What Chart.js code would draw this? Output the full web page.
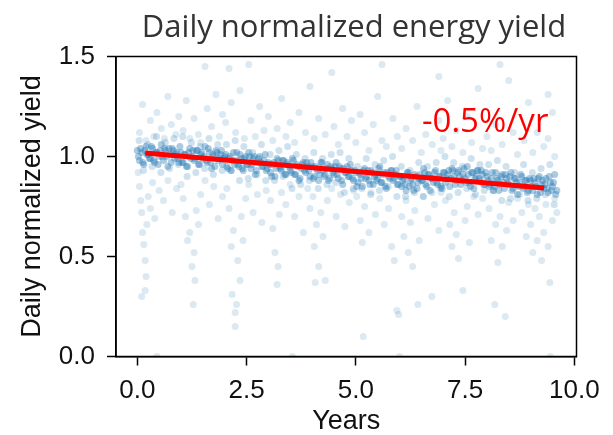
<!DOCTYPE html>
<html>
<head>
<meta charset="utf-8">
<script src="https://cdn.jsdelivr.net/npm/chart.js@4.4.1/dist/chart.umd.min.js"></script>
<style>
  html, body { margin: 0; padding: 0; background: #fff; }
  #wrap { width: 613px; height: 435px; }
</style>
</head>
<body>
<div id="wrap"><canvas id="yieldChart" width="613" height="435"></canvas></div>
<script>
// dense band of daily points (years, normalized yield)
const bandYears = [
  0,0.05,0.1,0.15,0.2,0.25,0.3,0.35,0.4,0.45,0.5,0.55,0.6,0.65,0.7,0.75,0.8,0.85,0.9,0.95,
  1,1.05,1.1,1.15,1.2,1.25,1.3,1.35,1.4,1.45,1.5,1.55,1.6,1.65,1.7,1.75,1.8,1.85,1.9,1.95,
  2,2.05,2.1,2.15,2.2,2.25,2.3,2.35,2.4,2.45,2.5,2.55,2.6,2.65,2.7,2.75,2.8,2.85,2.9,2.95,
  3,3.05,3.1,3.15,3.2,3.25,3.3,3.35,3.4,3.45,3.5,3.55,3.6,3.65,3.7,3.75,3.8,3.85,3.9,3.95,
  4,4.05,4.1,4.15,4.2,4.25,4.3,4.35,4.4,4.45,4.5,4.55,4.6,4.65,4.7,4.75,4.8,4.85,4.9,4.95,
  5,5.05,5.1,5.15,5.2,5.25,5.3,5.35,5.4,5.45,5.5,5.55,5.6,5.65,5.7,5.75,5.8,5.85,5.9,5.95,
  6,6.05,6.1,6.15,6.2,6.25,6.3,6.35,6.4,6.45,6.5,6.55,6.6,6.65,6.7,6.75,6.8,6.85,6.9,6.95,
  7,7.05,7.1,7.15,7.2,7.25,7.3,7.35,7.4,7.45,7.5,7.55,7.6,7.65,7.7,7.75,7.8,7.85,7.9,7.95,
  8,8.05,8.1,8.15,8.2,8.25,8.3,8.35,8.4,8.45,8.5,8.55,8.6,8.65,8.7,8.75,8.8,8.85,8.9,8.95,
  9,9.05,9.1,9.15,9.2,9.25,9.3,9.35,9.4,9.45,9.5,9.55,9.6,
  0.025,0.075,0.125,0.175,0.225,0.275,0.325,0.375,0.425,0.475,0.525,0.575,0.625,0.675,0.725,0.775,0.825,0.875,0.925,0.975,
  1.025,1.075,1.125,1.175,1.225,1.275,1.325,1.375,1.425,1.475,1.525,1.575,1.625,1.675,1.725,1.775,1.825,1.875,1.925,1.975,
  2.025,2.075,2.125,2.175,2.225,2.275,2.325,2.375,2.425,2.475,2.525,2.575,2.625,2.675,2.725,2.775,2.825,2.875,2.925,2.975,
  3.025,3.075,3.125,3.175,3.225,3.275,3.325,3.375,3.425,3.475,3.525,3.575,3.625,3.675,3.725,3.775,3.825,3.875,3.925,3.975,
  4.025,4.075,4.125,4.175,4.225,4.275,4.325,4.375,4.425,4.475,4.525,4.575,4.625,4.675,4.725,4.775,4.825,4.875,4.925,4.975,
  5.025,5.075,5.125,5.175,5.225,5.275,5.325,5.375,5.425,5.475,5.525,5.575,5.625,5.675,5.725,5.775,5.825,5.875,5.925,5.975,
  6.025,6.075,6.125,6.175,6.225,6.275,6.325,6.375,6.425,6.475,6.525,6.575,6.625,6.675,6.725,6.775,6.825,6.875,6.925,6.975,
  7.025,7.075,7.125,7.175,7.225,7.275,7.325,7.375,7.425,7.475,7.525,7.575,7.625,7.675,7.725,7.775,7.825,7.875,7.925,7.975,
  8.025,8.075,8.125,8.175,8.225,8.275,8.325,8.375,8.425,8.475,8.525,8.575,8.625,8.675,8.725,8.775,8.825,8.875,8.925,8.975,
  9.025,9.075,9.125,9.175,9.225,9.275,9.325,9.375,9.425,9.475,9.525,9.575
];
const bandYields = [
  1.03,0.98,1.02,0.96,1.05,1.01,0.99,1.04,0.97,1.02,1.00,1.06,0.98,1.03,0.95,1.01,1.04,0.99,1.02,0.97,
  1.02,0.97,1.01,0.95,1.04,1.00,0.98,1.03,0.96,1.01,0.99,1.05,0.97,1.02,0.94,1.00,1.03,0.98,1.01,0.96,
  1.00,0.95,0.99,0.93,1.02,0.98,0.96,1.01,0.94,0.99,0.96,1.02,0.94,0.99,0.91,0.97,1.00,0.95,0.98,0.93,
  0.97,0.92,0.96,0.90,0.99,0.95,0.93,0.98,0.91,0.96,0.93,0.99,0.91,0.96,0.88,0.94,0.97,0.92,0.95,0.90,
  0.95,0.90,0.94,0.88,0.97,0.93,0.91,0.96,0.89,0.94,0.91,0.97,0.89,0.94,0.86,0.92,0.95,0.90,0.93,0.88,
  0.92,0.87,0.91,0.85,0.94,0.90,0.88,0.93,0.86,0.91,0.89,0.95,0.87,0.92,0.84,0.90,0.93,0.88,0.91,0.86,
  0.90,0.85,0.89,0.83,0.92,0.88,0.86,0.91,0.84,0.89,0.88,0.94,0.86,0.91,0.83,0.89,0.92,0.87,0.90,0.85,
  0.92,0.87,0.91,0.85,0.94,0.90,0.88,0.93,0.86,0.91,0.89,0.95,0.87,0.92,0.84,0.90,0.93,0.88,0.91,0.86,
  0.90,0.85,0.89,0.83,0.92,0.88,0.86,0.91,0.84,0.89,0.86,0.92,0.84,0.89,0.81,0.87,0.90,0.85,0.88,0.83,
  0.88,0.83,0.87,0.81,0.90,0.86,0.84,0.89,0.82,0.87,0.85,0.91,0.83,
  1.00,1.04,0.97,1.03,1.01,0.99,1.05,0.98,1.02,0.96,1.03,1.00,1.04,1.00,1.04,0.97,1.03,1.01,0.99,1.05,
  0.97,1.01,0.95,1.02,0.99,1.03,0.99,1.03,0.96,1.02,1.00,0.98,1.04,0.97,1.01,0.95,1.02,0.99,1.03,0.99,
  1.01,0.94,1.00,0.98,0.96,1.02,0.95,0.99,0.93,1.00,0.96,1.00,0.96,1.00,0.93,0.99,0.97,0.95,1.01,0.94,
  0.96,0.90,0.97,0.94,0.98,0.94,0.98,0.91,0.97,0.95,0.92,0.98,0.91,0.95,0.89,0.96,0.93,0.97,0.93,0.97,
  0.89,0.95,0.93,0.91,0.97,0.90,0.94,0.88,0.95,0.92,0.95,0.91,0.95,0.88,0.94,0.92,0.90,0.96,0.89,0.93,
  0.85,0.92,0.89,0.93,0.89,0.93,0.86,0.92,0.90,0.88,0.94,0.87,0.91,0.85,0.92,0.89,0.93,0.89,0.93,0.86,
  0.90,0.88,0.86,0.92,0.85,0.89,0.83,0.90,0.87,0.91,0.88,0.92,0.85,0.91,0.89,0.87,0.93,0.86,0.90,0.84,
  0.92,0.89,0.93,0.89,0.93,0.86,0.92,0.90,0.88,0.94,0.87,0.91,0.85,0.92,0.89,0.93,0.89,0.93,0.86,0.92,
  0.88,0.86,0.92,0.85,0.89,0.83,0.90,0.87,0.91,0.87,0.90,0.83,0.89,0.87,0.85,0.91,0.84,0.88,0.82,0.89,
  0.85,0.89,0.85,0.89,0.82,0.88,0.86,0.84,0.90,0.83,0.87,0.81
];

// looser halo round the band
const haloYears = [
  0.04,0.14,0.24,0.34,0.44,0.54,0.64,0.74,0.84,0.94,1.04,1.14,1.24,1.34,1.44,1.54,1.64,1.74,1.84,1.94,
  2.04,2.14,2.24,2.34,2.44,2.54,2.64,2.74,2.84,2.94,3.04,3.14,3.24,3.34,3.44,3.54,3.64,3.74,3.84,3.94,
  4.04,4.14,4.24,4.34,4.44,4.54,4.64,4.74,4.84,4.94,5.04,5.14,5.24,5.34,5.44,5.54,5.64,5.74,5.84,5.94,
  6.04,6.14,6.24,6.34,6.44,6.54,6.64,6.74,6.84,6.94,7.04,7.14,7.24,7.34,7.44,7.54,7.64,7.74,7.84,7.94,
  8.04,8.14,8.24,8.34,8.44,8.54,8.64,8.74,8.84,8.94,9.04,9.14,9.24,9.34,9.44,9.54
];
const haloYields = [
  1.08,0.93,1.06,0.95,1.10,0.92,1.07,0.94,1.09,0.96,1.10,0.90,1.07,0.92,1.05,0.94,1.09,0.91,1.06,0.93,
  1.06,0.93,1.08,0.88,1.05,0.89,1.02,0.91,1.06,0.88,1.01,0.88,1.03,0.90,1.05,0.84,1.01,0.86,0.99,0.88,
  1.02,0.84,0.99,0.86,1.01,0.87,1.02,0.82,0.99,0.84,0.95,0.84,0.99,0.81,0.96,0.83,0.98,0.85,1.00,0.80,
  0.95,0.80,0.93,0.82,0.97,0.80,0.95,0.82,0.97,0.84,1.00,0.80,0.97,0.82,0.95,0.84,0.99,0.81,0.96,0.83,
  0.96,0.83,0.98,0.78,0.95,0.79,0.92,0.81,0.96,0.78,0.92,0.79,0.94,0.81,0.96,0.76
];

// scattered days above and below the band
const spreadYears = [
  0.05,0.12,0.2,0.3,0.38,0.45,0.55,0.62,0.7,0.78,0.88,0.95,
  1.05,1.12,1.2,1.3,1.4,1.55,1.6,1.7,1.8,1.88,1.95,1.45,
  2.02,2.1,2.15,2.25,2.35,2.45,2.55,2.6,2.7,2.8,2.9,
  3.0,3.1,3.2,3.3,3.4,3.5,3.6,3.7,3.85,3.95,
  4.05,4.15,4.3,4.45,4.5,4.6,4.7,4.8,4.9,
  5.0,5.1,5.2,5.3,5.4,5.5,5.6,5.7,5.85,5.95,5.6,
  6.05,6.15,6.3,6.4,6.5,6.6,6.75,6.9,6.95,
  7.0,7.1,7.2,7.3,7.45,7.55,7.65,7.8,7.9,
  8.0,8.1,8.2,8.35,8.5,8.6,8.7,8.85,8.95,8.3,
  9.05,9.15,9.3,9.4,9.5,9.55,9.4,6.9,
  0.02,0.05,0.08,0.1,0.12,0.15,0.18,0.1,0.18,0.2,0.22,0.25,0.3,0.35,0.4,0.45,0.5,0.6,0.7,0.8,0.9,
  1.0,1.05,1.1,1.15,1.2,1.25,1.28,1.3,1.32,1.35,1.4,1.45,1.55,1.65,1.75,1.85,1.95,
  2.05,2.1,2.15,2.17,2.2,2.24,2.24,2.27,2.3,2.35,2.38,2.42,2.48,2.55,2.65,2.75,2.85,2.95,
  3.05,3.1,3.15,3.2,3.22,3.25,3.3,3.4,3.5,3.55,3.6,3.7,3.8,3.9,3.95,
  4.02,4.05,4.07,4.1,4.15,4.2,4.25,4.3,4.35,4.45,4.55,4.65,4.75,4.85,4.95,
  5.02,5.1,5.15,5.17,5.2,5.3,5.35,5.45,5.55,5.65,5.75,5.82,5.88,5.94,5.98,6.0,
  6.05,6.1,6.15,6.2,6.25,6.3,6.35,6.42,6.45,6.55,6.65,6.74,6.8,6.9,6.95,
  7.05,7.15,7.2,7.25,7.3,7.35,7.45,7.5,7.55,7.6,7.7,7.8,7.9,
  8.05,8.1,8.18,8.2,8.25,8.3,8.35,8.42,8.45,8.5,8.6,8.7,8.8,8.9,8.95,
  9.0,9.05,9.1,9.15,9.2,9.25,9.3,9.35,9.4,9.44,9.45,9.5,9.55,9.6
];
const spreadYields = [
  1.12,1.26,1.08,1.18,1.10,1.22,1.14,1.09,1.30,1.16,1.11,1.20,
  1.13,1.28,1.09,1.19,1.11,1.45,1.24,1.15,1.31,1.10,1.21,1.07,
  1.17,1.44,1.27,1.12,1.33,1.09,1.46,1.18,1.10,1.25,1.13,
  1.20,1.08,1.14,1.29,1.10,1.17,1.07,1.22,1.12,1.35,
  1.09,1.19,1.11,1.42,1.15,1.06,1.24,1.10,1.18,
  1.07,1.21,1.12,1.03,1.16,1.30,1.08,1.05,1.19,1.10,1.46,
  1.04,1.14,1.08,1.25,1.02,1.11,1.06,1.18,1.03,
  1.09,1.28,1.05,1.13,1.02,1.20,1.07,1.34,1.04,
  1.10,1.03,1.16,1.06,1.38,1.12,1.01,1.08,1.27,1.46,
  1.02,1.12,1.05,1.09,1.22,1.00,1.31,1.40,
  0.92,0.85,0.78,0.72,0.62,0.56,0.48,0.30,0.33,0.40,0.66,0.80,0.74,0.87,0.69,0.00,0.83,0.78,0.88,0.72,0.84,
  0.86,0.79,0.70,0.58,0.62,0.45,0.26,0.52,0.38,0.73,0.66,0.81,0.88,0.76,0.85,0.69,0.80,
  0.84,0.74,0.55,0.31,0.63,0.15,0.22,0.26,0.48,0.38,0.70,0.58,0.79,0.86,0.72,0.81,0.67,0.83,
  0.78,0.64,0.52,0.36,0.45,0.71,0.82,0.76,0.86,0.00,0.70,0.80,0.62,0.84,0.74,
  0.80,0.55,0.37,0.66,0.45,0.72,0.60,0.38,0.78,0.84,0.70,0.81,0.65,0.77,0.83,
  0.80,0.68,0.57,0.10,0.75,0.62,0.82,0.71,0.79,0.66,0.74,0.55,0.48,0.23,0.21,0.00,
  0.70,0.60,0.78,0.52,0.67,0.45,0.73,0.26,0.58,0.80,0.69,0.30,0.76,0.63,0.82,
  0.78,0.66,0.55,0.72,0.61,0.49,0.33,0.68,0.75,0.57,0.80,0.71,0.79,
  0.74,0.58,0.26,0.66,0.47,0.70,0.55,0.20,0.63,0.77,0.68,0.79,0.72,0.60,0.76,
  0.66,0.52,0.74,0.58,0.70,0.48,0.62,0.76,0.55,0.37,0.00,0.68,0.79,0.72
];

// fitted degradation trend
const trendYears = [0.18, 9.31];
const trendYields = [1.017, 0.842];

const xTicks = [0, 2.5, 5, 7.5, 10];
const yTicks = [0, 0.5, 1.0, 1.5];

const toPoints = (xs, ys) => xs.map((x, i) => ({x: x, y: ys[i]}));

const textPlugin = {
  id: "textPlugin",
  afterDraw(chart) {
    const ctx = chart.ctx;
    const a = chart.chartArea;
    ctx.save();
    ctx.strokeStyle = "#000";
    ctx.lineWidth = 1.5;
    ctx.strokeRect(a.left, a.top, a.right - a.left, a.bottom - a.top);
    ctx.fillStyle = "#333";
    ctx.font = '31px "Open Sans"';
    ctx.textAlign = "center";
    ctx.textBaseline = "alphabetic";
    ctx.fillText("Daily normalized energy yield", 354, 37);
    ctx.fillStyle = "#ff0000";
    ctx.font = '33px "Open Sans"';
    ctx.fillText("-0.5%/yr", chart.scales.x.getPixelForValue(7.96), chart.scales.y.getPixelForValue(1.123));
    ctx.restore();
  }
};

const axisFont = {family: "'Liberation Sans', Arial", size: 26};

new Chart(document.getElementById("yieldChart").getContext("2d"), {
  type: "scatter",
  data: {
    datasets: [
      {
        label: "trend",
        data: toPoints(trendYears, trendYields),
        showLine: true,
        borderColor: "#ff0000",
        borderWidth: 5,
        pointRadius: 0,
        order: 0
      },
      {
        label: "band",
        data: toPoints(bandYears, bandYields),
        backgroundColor: "rgba(31,119,180,0.38)",
        borderWidth: 0,
        pointRadius: 3.5,
        order: 1
      },
      {
        label: "halo",
        data: toPoints(haloYears, haloYields),
        backgroundColor: "rgba(31,119,180,0.22)",
        borderWidth: 0,
        pointRadius: 3.5,
        order: 2
      },
      {
        label: "spread",
        data: toPoints(spreadYears, spreadYields),
        backgroundColor: "rgba(31,119,180,0.16)",
        borderWidth: 0,
        pointRadius: 3.5,
        order: 3
      }
    ]
  },
  options: {
    responsive: false,
    animation: false,
    devicePixelRatio: 1,
    layout: {padding: {top: 56.5, right: 36.5, left: 0, bottom: 0}},
    plugins: {legend: {display: false}, tooltip: {enabled: false}, title: {display: false}},
    scales: {
      x: {
        type: "linear",
        min: -0.487,
        max: 10.05,
        afterBuildTicks: s => { s.ticks = xTicks.map(v => ({value: v})); },
        afterFit: s => { s.height = 78.5; },
        ticks: {font: axisFont, color: "#111", padding: 10, maxRotation: 0, autoSkip: false,
                callback: v => Number(v).toFixed(1)},
        grid: {drawOnChartArea: false, drawTicks: true, tickLength: 9, tickWidth: 1.5, tickColor: "#000"},
        border: {color: "#000", width: 1.5},
        title: {display: true, text: "Years", color: "#111",
                font: {family: "'Liberation Sans', Arial", size: 27, lineHeight: 1}, padding: 0}
      },
      y: {
        min: 0,
        max: 1.5,
        afterBuildTicks: s => { s.ticks = yTicks.map(v => ({value: v})); },
        afterFit: s => { s.width = 116; },
        ticks: {font: axisFont, color: "#111", padding: 12,
                callback: v => Number(v).toFixed(1)},
        grid: {drawOnChartArea: false, drawTicks: true, tickLength: 9, tickWidth: 1.5, tickColor: "#000"},
        border: {color: "#000", width: 1.5},
        title: {display: true, text: "Daily normalized yield", color: "#111",
                font: {family: "'Liberation Sans', Arial", size: 27, lineHeight: 1.2}, padding: {top: 16, bottom: 0}}
      }
    }
  },
  plugins: [textPlugin]
});
</script>
</body>
</html>
